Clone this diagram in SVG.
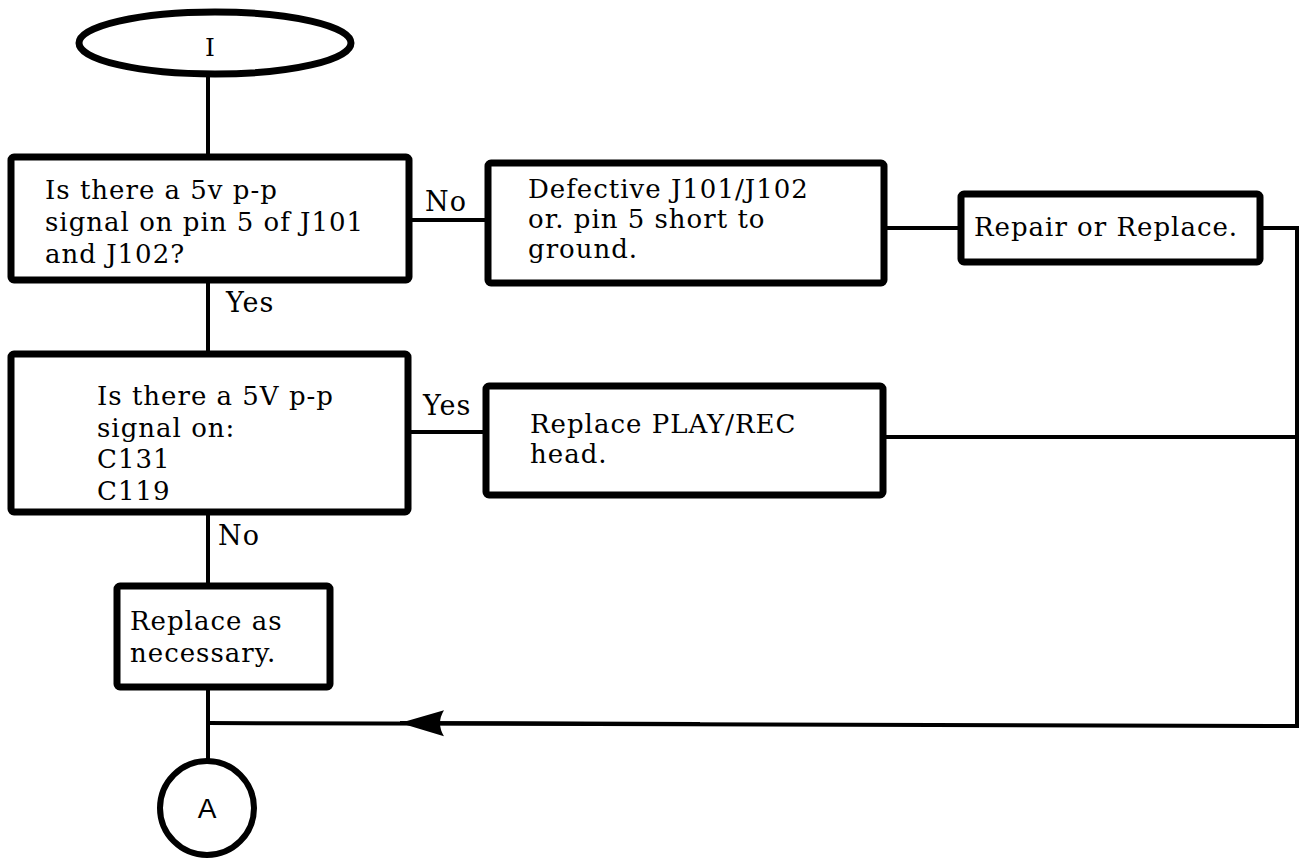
<svg xmlns="http://www.w3.org/2000/svg" width="1302" height="858" viewBox="0 0 1302 858">
<style>
.box{fill:#fff;stroke:#000;stroke-width:7;stroke-linejoin:round}
.t{font-family:"DejaVu Serif","Liberation Serif",serif;font-size:26px;letter-spacing:1px;fill:#000}
.lbl{font-family:"DejaVu Serif","Liberation Serif",serif;font-size:27px;letter-spacing:1px;fill:#000}
.c{fill:none;stroke:#000;stroke-width:4}
</style>
<defs>
<marker id="barb" viewBox="0 0 44 30" refX="44" refY="15" markerWidth="44" markerHeight="30" markerUnits="userSpaceOnUse" orient="auto">
<path d="M44,15 L0,2 Q8,15 0,28 Z" fill="#000"/>
</marker>
</defs>
<rect width="1302" height="858" fill="#fff"/>
<g id="connectors">
<line class="c" x1="208" y1="75" x2="208" y2="157"/>
<line class="c" x1="208" y1="280" x2="208" y2="353"/>
<line class="c" x1="208" y1="512" x2="208" y2="585"/>
<line class="c" x1="208" y1="687" x2="208" y2="760"/>
<line class="c" x1="410" y1="220" x2="487" y2="220"/>
<line class="c" x1="885" y1="228" x2="960" y2="228"/>
<polyline class="c" points="1260,228 1297,228 1297,726 208,723"/>
<line class="c" x1="408" y1="432" x2="485" y2="432"/>
<line class="c" x1="883" y1="437" x2="1297" y2="437"/>
<line class="c" x1="700" y1="724" x2="400" y2="723" marker-end="url(#barb)"/>
<text class="lbl" x="425" y="211">No</text>
<text class="lbl" x="226" y="312">Yes</text>
<text class="lbl" x="423" y="415">Yes</text>
<text class="lbl" x="218" y="545">No</text>
</g>
<g id="start">
<ellipse cx="215" cy="43" rx="136" ry="31" fill="#fff" stroke="#000" stroke-width="7"/>
<text x="210" y="56" text-anchor="middle" font-family="DejaVu Serif, serif" font-size="25">I</text>
</g>
<g id="q1">
<rect class="box" x="11" y="157" width="398" height="123" rx="3"/>
<text class="t" x="45" y="199">Is there a 5v p-p</text>
<text class="t" x="45" y="231">signal on pin 5 of J101</text>
<text class="t" x="45" y="263">and J102?</text>
</g>
<g id="defective">
<rect class="box" x="488" y="163" width="396" height="120" rx="3"/>
<text class="t" x="528" y="198">Defective J101/J102</text>
<text class="t" x="528" y="228">or. pin 5 short to</text>
<text class="t" x="528" y="258">ground.</text>
</g>
<g id="repair">
<rect class="box" x="961" y="194" width="299" height="68" rx="3"/>
<text class="t" x="974" y="236">Repair or Replace.</text>
</g>
<g id="q2">
<rect class="box" x="11" y="354" width="397" height="158" rx="3"/>
<text class="t" x="97" y="405">Is there a 5V p-p</text>
<text class="t" x="97" y="437">signal on:</text>
<text class="t" x="97" y="468">C131</text>
<text class="t" x="97" y="500">C119</text>
</g>
<g id="playrec">
<rect class="box" x="486" y="386" width="397" height="109" rx="3"/>
<text class="t" x="530" y="433">Replace PLAY/REC</text>
<text class="t" x="530" y="463">head.</text>
</g>
<g id="replace">
<rect class="box" x="117" y="586" width="213" height="101" rx="3"/>
<text class="t" x="130" y="630">Replace as</text>
<text class="t" x="130" y="662">necessary.</text>
</g>
<g id="a">
<circle cx="207" cy="808" r="47" fill="#fff" stroke="#000" stroke-width="6"/>
<text x="207" y="818" text-anchor="middle" font-family="Liberation Sans, sans-serif" font-size="28">A</text>
</g>
</svg>
